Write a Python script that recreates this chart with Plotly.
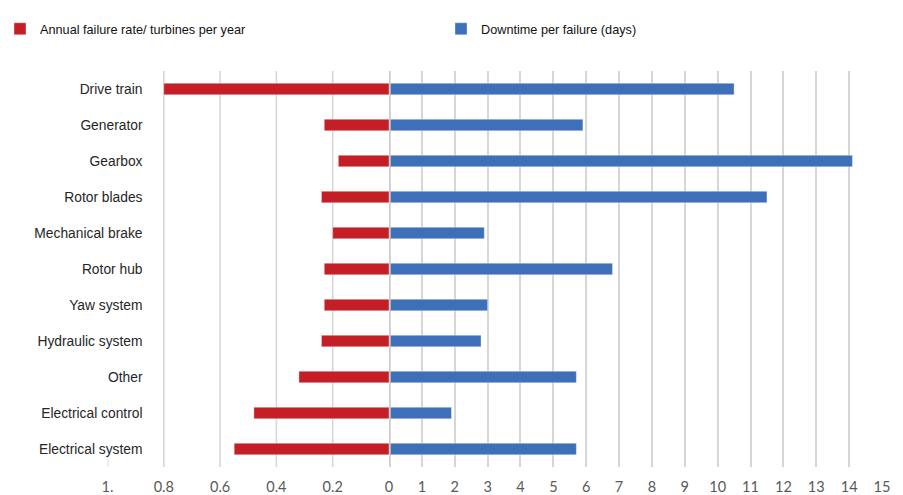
import plotly.graph_objects as go

categories = ["Drive train", "Generator", "Gearbox", "Rotor blades", "Mechanical brake",
              "Rotor hub", "Yaw system", "Hydraulic system", "Other",
              "Electrical control", "Electrical system"]
failure_rate = [0.80, 0.23, 0.18, 0.24, 0.20, 0.23, 0.23, 0.24, 0.32, 0.48, 0.55]
downtime = [10.5, 5.9, 14.1, 11.5, 2.9, 6.8, 3.0, 2.8, 5.7, 1.9, 5.7]

left_tickvals = [1.0, 0.8, 0.6, 0.4, 0.2, 0.0]
left_ticktext = ["1.", "0.8", "0.6", "0.4", "0.2", "0"]
right_tickvals = list(range(1, 16))
right_ticktext = [str(v) for v in right_tickvals]

RED = "#C41F27"
BLUE = "#3D70B8"
GRID = "#D6D6D6"
W, H = 903, 495

fig = go.Figure()
fig.add_trace(go.Bar(
    y=categories, x=failure_rate, orientation="h", xaxis="x", yaxis="y",
    name="Annual failure rate/ turbines per year", width=0.32,
    marker=dict(color=RED, line=dict(color="rgba(255,255,255,0.6)", width=0.6)),
))
fig.add_trace(go.Bar(
    y=categories, x=downtime, orientation="h", xaxis="x2", yaxis="y",
    name="Downtime per failure (days)", width=0.32,
    marker=dict(color=BLUE, line=dict(color="rgba(255,255,255,0.6)", width=0.6)),
))

x_split = 389 / W
tick_font = dict(family="Lato, Liberation Sans, Arial", size=14.5, color="#595959")

shapes = []
# left-side gridlines
for v in left_tickvals:
    if v == 0:
        continue
    y1 = 1 if v != 1.0 else 0.028
    shapes.append(dict(type="line", xref="x", yref="y domain", x0=v, x1=v, y0=0, y1=y1,
                       line=dict(color=GRID, width=1.6), layer="below"))
# zero divider
shapes.append(dict(type="line", xref="x2", yref="y domain", x0=0, x1=0, y0=0, y1=1,
                   line=dict(color="#CBCBCB", width=3.5), layer="above"))

fig.update_layout(
    width=W, height=H, autosize=False,
    margin=dict(l=0, r=0, t=0, b=0),
    paper_bgcolor="white", plot_bgcolor="white",
    barmode="overlay",
    showlegend=True,
    legend=dict(orientation="h", x=0.0, xanchor="left", y=1 - 14 / H, yanchor="top",
                entrywidth=396, entrywidthmode="pixels",
                font=dict(family="Liberation Sans, Arial", size=12.7, color="#111111"),
                itemclick=False, traceorder="normal"),
    xaxis=dict(domain=[107.5 / W, x_split], range=[1.0, 0.0], anchor="y",
               tickvals=left_tickvals, ticktext=left_ticktext, showgrid=False,
               zeroline=False, showline=False, ticks="", tickfont=tick_font,
               ticklabelstandoff=9, automargin=False),
    xaxis2=dict(domain=[x_split, 882 / W], range=[0, 15], anchor="y",
                tickvals=right_tickvals, ticktext=right_ticktext, showgrid=True,
                gridcolor=GRID, gridwidth=1.6, zeroline=False, showline=False,
                ticks="", tickfont=tick_font, ticklabelstandoff=9, automargin=False),
    yaxis=dict(domain=[28 / H, 424 / H], anchor="free", position=142.5 / W,
               categoryorder="array", categoryarray=categories, autorange="reversed",
               showgrid=False, zeroline=False, showline=False, ticks="", automargin=False,
               tickfont=dict(family="Liberation Sans, Arial", size=13.8, color="#262626")),
    shapes=shapes,
)

fig.write_html(
    "out.html",
    config={"responsive": False, "displayModeBar": False},
    default_width="903px", default_height="495px",
    post_script="document.body.style.margin='0';document.body.style.overflow='hidden';",
)
